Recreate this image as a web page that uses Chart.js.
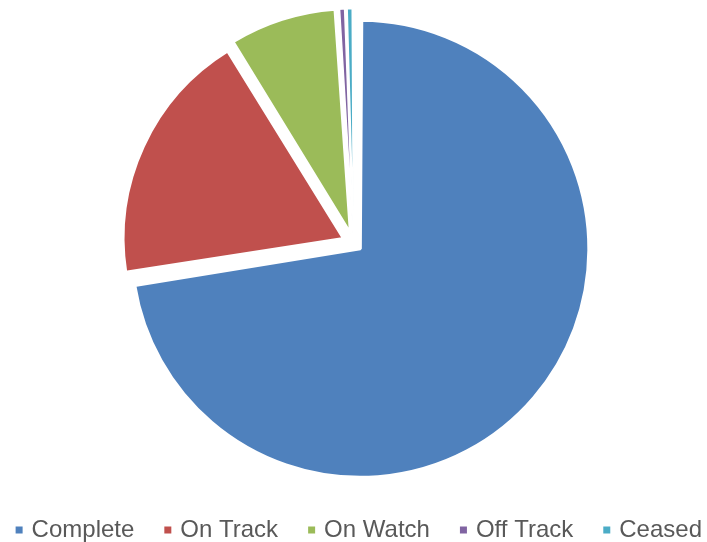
<!DOCTYPE html>
<html>
<head>
<meta charset="utf-8">
<script src="https://cdn.jsdelivr.net/npm/chart.js@4"></script>
<style>
  html, body { margin: 0; padding: 0; background: #fff; }
  #wrap { width: 707px; height: 542px; position: relative; }
</style>
</head>
<body>
<div id="wrap"><canvas id="myChart"></canvas></div>
<script>
// project status breakdown
var statusLabels = ['Complete', 'On Track', 'On Watch', 'Off Track', 'Ceased'];
var projectCounts = [140, 36, 15, 1, 1];

var ctx = document.getElementById('myChart').getContext('2d');
var myChart = new Chart(ctx, {
    type: 'pie',
    data: {
        labels: statusLabels,
        datasets: [{
            data: projectCounts,
            backgroundColor: ['#4F81BD', '#C0504D', '#9BBB59', '#8064A2', '#4BACC6'],
            borderColor: '#ffffff',
            // thinner outline on the tiny slices so they stay visible
            borderWidth: [3, 3, 3, 1.5, 1.5],
            // pulled-apart slices
            offset: [36, 44, 40, 30, 30],
            radius: 219.5
        }]
    },
    options: {
        responsive: true,
        maintainAspectRatio: false,
        animation: false,
        layout: {
            padding: { top: 1, bottom: -10, left: -31, right: -28 }
        },
        plugins: {
            tooltip: { enabled: false },
            legend: {
                position: 'bottom',
                align: 'end',
                labels: {
                    usePointStyle: true,
                    pointStyle: 'rect',
                    boxWidth: 1,
                    boxHeight: 7,
                    padding: 33,
                    color: '#595959',
                    font: { family: "'Liberation Sans', Arial, sans-serif", size: 24 },
                    generateLabels: function(chart) {
                        var items = Chart.overrides.pie.plugins.legend.labels.generateLabels(chart);
                        return items.map(function(item) {
                            item.lineWidth = 0;
                            return item;
                        });
                    }
                }
            }
        }
    }
});
</script>
</body>
</html>
